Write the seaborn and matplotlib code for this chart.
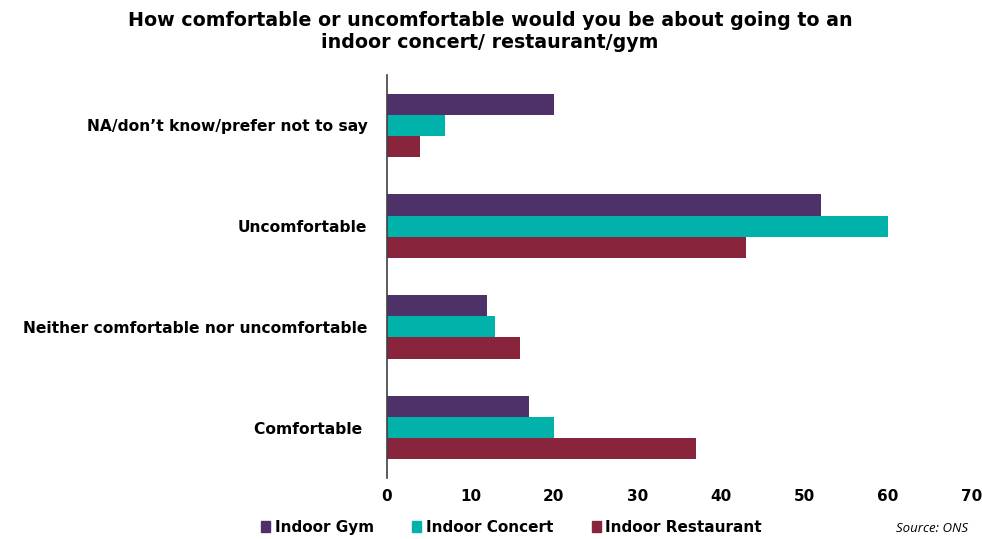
import matplotlib
matplotlib.use("Agg")
import matplotlib.pyplot as plt
import seaborn as sns
import pandas as pd

categories = ["NA/don\u2019t know/prefer not to say", "Uncomfortable",
              "Neither comfortable nor uncomfortable", "Comfortable "]
series = ["Indoor Gym", "Indoor Concert", "Indoor Restaurant"]
gym = [20, 52, 12, 17]
concert = [7, 60, 13, 20]
restaurant = [4, 43, 16, 37]
colors = ["#4e3169", "#00b2aa", "#88243c"]

rows = []
for name, vals in zip(series, [gym, concert, restaurant]):
    for cat, v in zip(categories, vals):
        rows.append({"category": cat, "series": name, "value": v})
df = pd.DataFrame(rows)

sns.set_style("white")
plt.rcParams["font.family"] = ["DejaVu Sans"]
plt.rcParams["text.color"] = "black"
plt.rcParams["xtick.color"] = "black"
plt.rcParams["ytick.color"] = "black"

fig = plt.figure(figsize=(9.82, 5.39), dpi=100)
ax = fig.add_axes([0.394, 0.113, 0.595, 0.748])
sns.barplot(data=df, y="category", x="value", hue="series", order=categories,
            hue_order=series, palette=colors, orient="h", width=0.63,
            saturation=1, linewidth=0, ax=ax, legend=False)

ax.set_xlim(0, 70)
ax.set_ylim(3.5, -0.5)
ax.set_xticks(range(0, 71, 10))
ax.set_xlabel("")
ax.set_ylabel("")
for s in ["top", "right", "bottom"]:
    ax.spines[s].set_visible(False)
ax.spines["left"].set_color("#404040")
ax.spines["left"].set_linewidth(1.2)
ax.tick_params(axis="both", length=0, labelsize=11, pad=8)
ax.tick_params(axis="y", labelsize=11.2, pad=14)
for lab in ax.get_xticklabels() + ax.get_yticklabels():
    lab.set_fontweight("bold")

fig.suptitle("How comfortable or uncomfortable would you be about going to an\nindoor concert/ restaurant/gym",
             x=0.499, y=0.98, fontsize=13.7, fontweight="bold", linespacing=1.2)

handles = [plt.Rectangle((0, 0), 1, 1, color=c) for c in colors]
fig.legend(handles, series, loc="center left", bbox_to_anchor=(0.252, 0.022),
           ncol=3, frameon=False, handlelength=0.6, handleheight=0.7,
           handletextpad=0.3, columnspacing=2.5,
           prop={"weight": "bold", "size": 11})

fig.text(0.986, 0.008, "Source: ONS", ha="right", va="bottom", fontsize=9.5,
         style="italic", family=["Open Sans", "DejaVu Sans"])

fig.savefig("out.png", dpi=100)
